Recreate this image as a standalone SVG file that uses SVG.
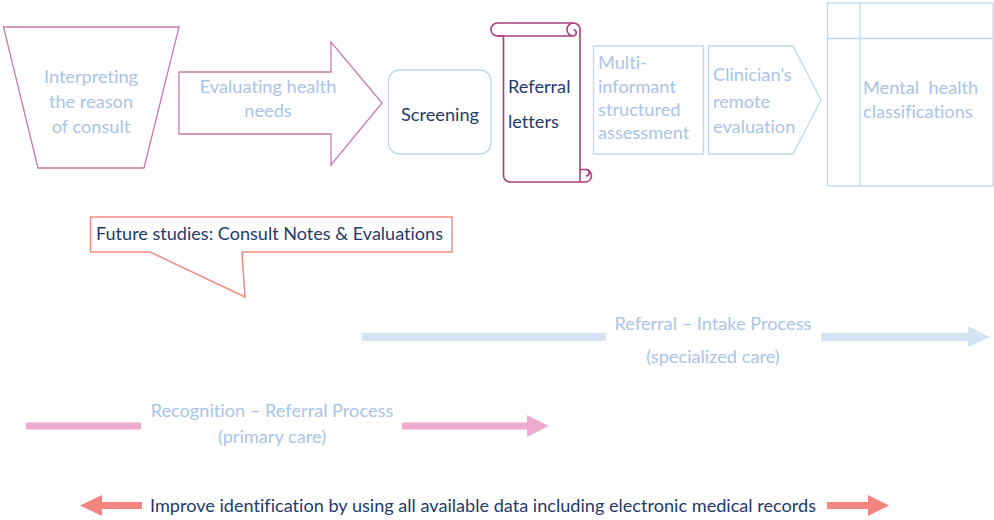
<svg xmlns="http://www.w3.org/2000/svg" width="994" height="520" viewBox="0 0 994 520">
<defs>
<style>
text{font-family:Lato,"Open Sans","Liberation Sans",sans-serif;font-size:18.2px;font-variant-ligatures:none}
.lt{fill:#a9c4e8}
.dk{fill:#1f3a6e}
.pk{fill:none;stroke:#c97aab;stroke-width:1.3}
.sc{fill:none;stroke:#ab3f80;stroke-width:1.6}
.bl{fill:none;stroke:#bdd7ee;stroke-width:1.3}
.mid{text-anchor:middle}
</style>
</defs>
<rect width="994" height="520" fill="#fff"/>
<g id="interpreting">
<polygon class="pk" points="3.5,27 179,27 144,168 38,168"/>
<text class="lt mid" x="91" y="83">Interpreting</text>
<text class="lt mid" x="91" y="108">the reason</text>
<text class="lt mid" x="91" y="133">of consult</text>
</g>
<g id="evaluating">
<polygon class="pk" points="179,72 331,72 331,42 382,103 331,165 331,134 179,134"/>
<text class="lt mid" x="268" y="93">Evaluating health</text>
<text class="lt mid" x="268" y="117">needs</text>
</g>
<g id="screening">
<rect class="bl" x="388.5" y="70" width="102.5" height="84" rx="11"/>
<text class="dk mid" x="440" y="121">Screening</text>
</g>
<g id="referral-letters">
<path class="sc" d="M497.5,36 A6.5,6.5 0 0 1 497.5,23 H573.5 A6.5,6.5 0 0 1 580,29.5 V169.5 H586 A6.3,6.3 0 0 1 586,182 H510 A6.5,6.5 0 0 1 503.5,175.5 V36 Z"/>
<path class="sc" d="M497.5,36 H574 M573.5,23 A6.5,6.5 0 0 0 573.5,36 A3.3,3.3 0 0 0 573.5,29.5 M580,169.5 V182 M586,169.5 A3.2,3.2 0 0 1 586,176"/>
<text class="dk" x="508" y="93">Referral</text>
<text class="dk" x="508" y="128">letters</text>
</g>
<g id="multi-informant">
<rect class="bl" x="593.5" y="46" width="110" height="108"/>
<text class="lt" x="598" y="69">Multi-</text>
<text class="lt" x="598" y="93">informant</text>
<text class="lt" x="598" y="116">structured</text>
<text class="lt" x="598" y="139">assessment</text>
</g>
<g id="clinician">
<polygon class="bl" points="708.5,46 793,46 821,100 793,154 708.5,154"/>
<text class="lt" x="713" y="81">Clinician’s</text>
<text class="lt" x="713" y="108">remote</text>
<text class="lt" x="713" y="133">evaluation</text>
</g>
<g id="mental-health">
<rect class="bl" x="827.5" y="3" width="165.5" height="183"/>
<path class="bl" d="M860,3 V186 M827.5,38.5 H993"/>
<text class="lt" x="863" y="94" xml:space="preserve">Mental  health</text>
<text class="lt" x="863" y="118">classifications</text>
</g>
<g id="future-studies">
<path d="M90.5,217 H452 V252 H242 L245,297 L150,252 H90.5 Z" fill="#fff" stroke="#f28a84" stroke-width="1.5"/>
<text class="dk" x="96" y="240" font-size="16.5" textLength="347" lengthAdjust="spacingAndGlyphs">Future studies: Consult Notes &amp; Evaluations</text>
</g>
<g id="connectors">
<path d="M362,337 H606 M821,337 H969" stroke="#d2e4f3" stroke-width="8" fill="none"/>
<polygon points="968,326 990,337 968,347" fill="#d2e4f3"/>
<path d="M26,426 H141 M402,426 H528" stroke="#efabcd" stroke-width="7" fill="none"/>
<polygon points="527,415 549,426 527,437" fill="#efabcd"/>
<path d="M101,505.5 H142 M827,505.5 H869" stroke="#f4847e" stroke-width="7" fill="none"/>
<polygon points="102,495 80,505.5 102,516" fill="#f4847e"/>
<polygon points="868,495 889,505.5 868,516" fill="#f4847e"/>
</g>
<g id="labels">
<text class="lt mid" x="713" y="330" font-size="17.2">Referral – Intake Process</text>
<text class="lt mid" x="713" y="363" font-size="17.2">(specialized care)</text>
<text class="lt mid" x="272" y="417" font-size="17.2">Recognition – Referral Process</text>
<text class="lt mid" x="272" y="443" font-size="17.2">(primary care)</text>
<text class="dk" x="150" y="512" font-size="17" textLength="666" lengthAdjust="spacingAndGlyphs">Improve identification by using all available data including electronic medical records</text>
</g>
</svg>
